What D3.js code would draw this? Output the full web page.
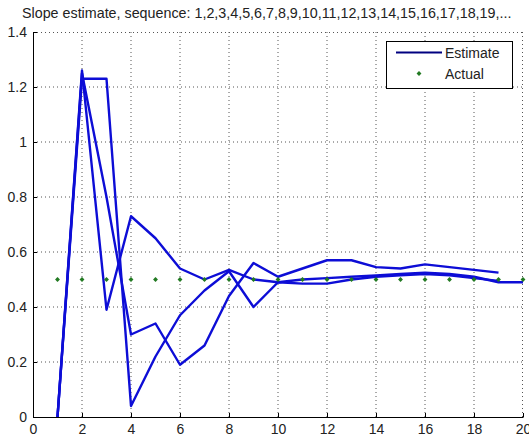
<!DOCTYPE html>
<html>
<head>
<meta charset="utf-8">
<script src="https://cdn.jsdelivr.net/npm/d3@7"></script>
<style>
body { margin: 0; background: #fff; }
text { font-family: "Liberation Sans", Arial, sans-serif; }
</style>
</head>
<body>
<script>
// chart data
var title = 'Slope estimate, sequence: 1,2,3,4,5,6,7,8,9,10,11,12,13,14,15,16,17,18,19,...'
var x_ticks = [0, 2, 4, 6, 8, 10, 12, 14, 16, 18, 20]
var y_ticks = [0, 0.2, 0.4, 0.6, 0.8, 1, 1.2, 1.4]
var est_a = [0, 1.26, 0.39, 0.73, 0.65, 0.54, 0.50, 0.535, 0.50, 0.49, 0.50, 0.505, 0.51, 0.515, 0.52, 0.525, 0.52, 0.51, 0.49, 0.49]
var est_b = [0, 1.25, 0.80, 0.30, 0.34, 0.19, 0.26, 0.44, 0.56, 0.51, 0.54, 0.57, 0.57, 0.545, 0.54, 0.555, 0.545, 0.535, 0.525]
var est_c = [0, 1.23, 1.23, 0.04, 0.22, 0.37, 0.46, 0.53, 0.40, 0.49, 0.485, 0.485, 0.50, 0.51, 0.515, 0.52, 0.515, 0.505, 0.495]
var actual = [0.5, 0.5, 0.5, 0.5, 0.5, 0.5, 0.5, 0.5, 0.5, 0.5, 0.5, 0.5, 0.5, 0.5, 0.5, 0.5, 0.5, 0.5, 0.5, 0.5]
var estimates = [est_a, est_b, est_c]

var width = 529, height = 439
var pad_l = 33, pad_r = 523, pad_t = 32, pad_b = 417

var svg = d3.select('body').append('svg').attr('width', width).attr('height', height)

var xScale = d3.scaleLinear().domain([0, 20]).range([pad_l, pad_r])
var yScale = d3.scaleLinear().domain([0, 1.4]).range([pad_b, pad_t])

// dotted grid
svg.append('g').selectAll('line').data(x_ticks.slice(1, -1)).enter().append('line')
	.attr('x1', d => xScale(d)).attr('x2', d => xScale(d))
	.attr('y1', pad_t).attr('y2', pad_b)
	.attr('stroke', '#555').attr('stroke-width', 1).attr('stroke-dasharray', '1,3')
svg.append('g').selectAll('line').data(y_ticks.slice(1, -1)).enter().append('line')
	.attr('x1', pad_l).attr('x2', pad_r)
	.attr('y1', d => yScale(d)).attr('y2', d => yScale(d))
	.attr('stroke', '#555').attr('stroke-width', 1).attr('stroke-dasharray', '1,3')
// top and right edges are dotted too
svg.append('line').attr('x1', pad_l).attr('x2', pad_r).attr('y1', pad_t + 0.5).attr('y2', pad_t + 0.5)
	.attr('stroke', '#555').attr('stroke-dasharray', '1,3')
svg.append('line').attr('x1', pad_r - 0.5).attr('x2', pad_r - 0.5).attr('y1', pad_t).attr('y2', pad_b)
	.attr('stroke', '#555').attr('stroke-dasharray', '1,3')

// axes (ticks point inward)
var xAxis = d3.axisBottom(xScale).tickValues(x_ticks).tickSizeInner(-4).tickSizeOuter(0).tickPadding(7)
var yAxis = d3.axisLeft(yScale).tickValues(y_ticks).tickSizeInner(-4).tickSizeOuter(0).tickPadding(6)
	.tickFormat(d3.format('~g'))
var gx = svg.append('g').attr('transform', 'translate(0,' + pad_b + ')').call(xAxis)
var gy = svg.append('g').attr('transform', 'translate(' + pad_l + ',0)').call(yAxis)
svg.selectAll('.domain').attr('stroke', '#000')
svg.selectAll('.tick line').attr('stroke', '#000')
svg.selectAll('.tick text').attr('font-size', '14px').attr('fill', '#222')
	.attr('font-family', '"Liberation Sans", Arial, sans-serif')

// estimate lines
var line = d3.line()
	.x(function(d, i) { return xScale(i + 1) })
	.y(function(d) { return yScale(d) })

svg.append('g').selectAll('path').data(estimates).enter().append('path')
	.attr('d', line)
	.attr('fill', 'none').attr('stroke', '#0d0dd6').attr('stroke-width', 2.4)
	.attr('stroke-linejoin', 'round')

// actual points (small square turned 45 degrees)
var marker = d3.symbol(d3.symbolSquare, 12)
svg.append('g').selectAll('path').data(actual).enter().append('path')
	.attr('d', marker)
	.attr('transform', function(d, i) { return 'translate(' + xScale(i + 1) + ',' + yScale(d) + ') rotate(45)' })
	.attr('fill', '#227a22')

// title
svg.append('text').text(title).attr('x', 22).attr('y', 18)
	.attr('font-size', '14.3px').attr('fill', '#222')

// legend
var legend = svg.append('g')
legend.append('rect').attr('x', 386.5).attr('y', 41.5).attr('width', 126).attr('height', 47)
	.attr('fill', '#fff').attr('stroke', '#000')
legend.append('line').attr('x1', 396).attr('x2', 442).attr('y1', 52.5).attr('y2', 52.5)
	.attr('stroke', '#000080').attr('stroke-width', 2)
legend.append('text').text('Estimate').attr('x', 445).attr('y', 58).attr('font-size', '14px').attr('fill', '#222')
legend.append('path').attr('d', marker)
	.attr('transform', 'translate(419,73.5) rotate(45)').attr('fill', '#227a22')
legend.append('text').text('Actual').attr('x', 445).attr('y', 79).attr('font-size', '14px').attr('fill', '#222')
</script>
</body>
</html>
